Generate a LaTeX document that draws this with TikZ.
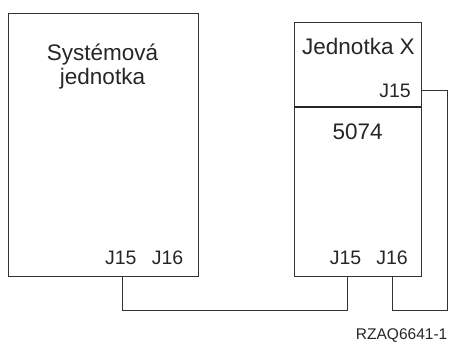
\documentclass[tikz,border=0pt]{standalone}
\usepackage{fontspec}
\setmainfont{Liberation Sans}
\begin{document}
\begin{tikzpicture}[x=1pt,y=-1pt,
  box/.style={draw=black!80, line width=1.1pt, inner sep=0pt, anchor=north west},
  title/.style={inner sep=0pt, anchor=base, font=\fontsize{22.5}{24}\selectfont, text=black!85},
  port/.style={inner sep=0pt, anchor=base, font=\fontsize{19.5}{20}\selectfont, text=black!85},
  wire/.style={draw=black!80, line width=0.9pt},
  divider/.style={draw=black!85, line width=2pt}]
\useasboundingbox (0,0) rectangle (451,345);
% boxes
\node[box, minimum width=189.4pt, minimum height=262.7pt] (sys) at (8.3,13.3) {};
\node[box, minimum width=126.4pt, minimum height=253.7pt] (unit) at (294.3,22.3) {};
\coordinate (dl) at (294.3,106.7);
\coordinate (dr) at (420.7,106.7);
\draw[divider] (dl) -- (dr);
% titles
\node[title] (t1) at (102.5,61) {Systémová};
\node[title] (t2) at (102.5,85) {jednotka};
\node[title] (tx) at (358.5,55) {Jednotka X};
\node[title] (t3) at (357.7,140) {5074};
% ports
\node[port] (sj15) at (120.8,265) {J15};
\node[port] (sj16) at (167.6,265) {J16};
\node[port] (uj15) at (345.5,265) {J15};
\node[port] (uj16) at (392.0,265) {J16};
\node[port] (xj15) at (395.0,97.3) {J15};
% connectors
\coordinate (c1) at (122.7,310);
\coordinate (c2) at (347.7,310);
\coordinate (c3) at (392.3,310);
\coordinate (c4) at (447.7,310);
\coordinate (c5) at (447.7,90);
\draw[wire] (c1 |- sys.south) -- (c1) -- (c2) -- (c2 |- unit.south);
\draw[wire] (c3 |- unit.south) -- (c3) -- (c4) -- (c5) -- (c5 -| unit.east);
% figure id
\node[inner sep=0pt, anchor=base east, font=\fontsize{15.5}{16}\selectfont, text=black!85] (fid) at (447.5,340) {RZAQ6641-1};
\end{tikzpicture}
\end{document}
